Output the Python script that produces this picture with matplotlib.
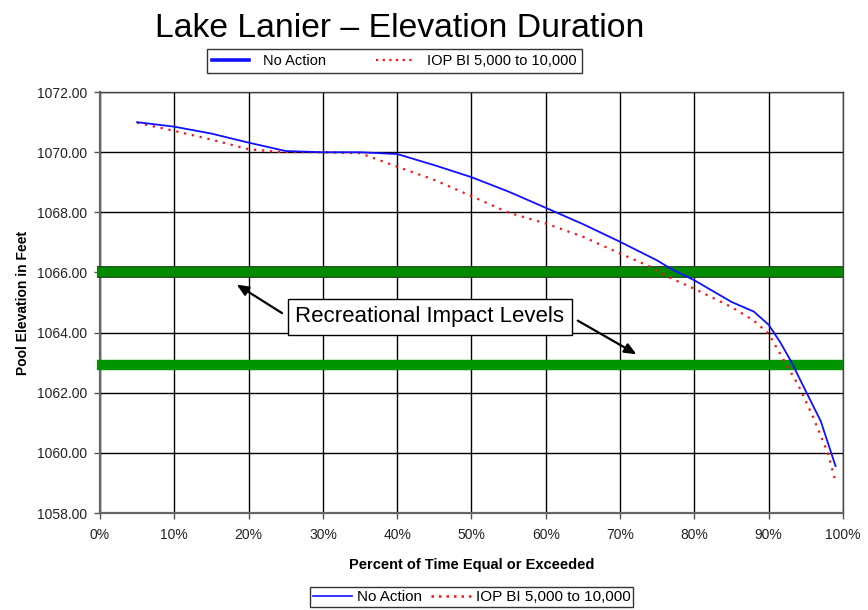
import matplotlib
matplotlib.use("Agg")
import matplotlib.pyplot as plt
import matplotlib.patheffects as pe
from matplotlib.lines import Line2D
from matplotlib.ticker import FuncFormatter, MultipleLocator

plt.rcParams['font.family'] = ['Liberation Sans', 'DejaVu Sans']

# Elevation duration curves (percent of time equal or exceeded vs pool elevation, ft)
pct_no_action = [5, 10, 15, 20, 25, 30, 35, 40, 45, 50, 55, 60, 65, 70, 75, 77,
                 80, 85, 88, 90, 91.5, 93, 95, 97, 99]
elev_no_action = [1071.0, 1070.85, 1070.62, 1070.32, 1070.04, 1070.0, 1070.0,
                  1069.94, 1069.57, 1069.17, 1068.69, 1068.15, 1067.61, 1067.02,
                  1066.4, 1066.1, 1065.74, 1065.02, 1064.7, 1064.26, 1063.7,
                  1063.05, 1062.05, 1061.06, 1059.56]

pct_iop = [5, 10, 15, 20, 24, 30, 35, 40, 45, 50, 55, 60, 65, 70, 74, 77,
           80, 85, 88, 90, 92, 94, 96, 98, 99]
elev_iop = [1070.98, 1070.71, 1070.42, 1070.1, 1070.01, 1070.0, 1069.97,
            1069.52, 1069.08, 1068.54, 1067.99, 1067.63, 1067.19, 1066.63,
            1066.2, 1065.79, 1065.46, 1064.85, 1064.4, 1063.96, 1063.1,
            1062.25, 1061.18, 1059.97, 1059.04]

impact_levels = [1066.0, 1062.93]
series_names = ["No Action", "IOP BI 5,000 to 10,000"]

fig = plt.figure(figsize=(8.68, 6.10), dpi=100)
ax = fig.add_axes([0.1152, 0.159, 0.856, 0.690])

ax.set_xlim(0, 100)
ax.set_ylim(1058, 1072)
ax.xaxis.set_major_locator(MultipleLocator(10))
ax.yaxis.set_major_locator(MultipleLocator(2))
ax.xaxis.set_major_formatter(FuncFormatter(lambda v, p: f"{v:.0f}%"))
ax.yaxis.set_major_formatter(FuncFormatter(lambda v, p: f"{v:.2f}"))
ax.grid(True, color='black', linewidth=1.0)
ax.set_axisbelow(True)
ax.tick_params(axis='both', direction='out', length=4, width=1, color='#555555',
               labelsize=10, labelcolor='#222222', pad=5)
ax.tick_params(axis='x', pad=7)

for side in ['left', 'bottom']:
    ax.spines[side].set_color('#666666')
    ax.spines[side].set_linewidth(1.6)
for side in ['top', 'right']:
    ax.spines[side].set_color('#444444')
    ax.spines[side].set_linewidth(1.0)

# Recreational impact levels
ax.plot([-0.4, 100], [impact_levels[0]] * 2, color='#008a00', linewidth=7,
        solid_capstyle='butt', clip_on=False, zorder=3,
        path_effects=[pe.Stroke(linewidth=8.5, foreground='#1a3a1a'), pe.Normal()])
ax.plot([-0.4, 100], [impact_levels[1]] * 2, color='#009400', linewidth=7.5,
        solid_capstyle='butt', clip_on=False, zorder=3)

ax.plot(pct_no_action, elev_no_action, color='#1010ff', linewidth=1.3, zorder=5)
ax.plot(pct_iop, elev_iop, color='#ff1010', linewidth=1.6,
        linestyle=(0, (1, 2.6)), zorder=4)

ax.set_xlabel("Percent of Time Equal or Exceeded", fontsize=10.5,
              fontweight='bold', labelpad=11)
ax.set_ylabel("Pool Elevation in Feet", fontsize=10, fontweight='bold', labelpad=5)

# Callout box with arrows
ax.text(44.4, 1064.52, "Recreational Impact Levels", fontsize=16, ha='center',
        va='center', zorder=7,
        bbox=dict(boxstyle='square,pad=0.35', facecolor='white',
                  edgecolor='black', linewidth=1.0))
arrow_kw = dict(arrowstyle='-|>,head_length=0.7,head_width=0.3', color='black',
                linewidth=1.6, shrinkA=0, shrinkB=0)
ax.annotate("", xy=(18.4, 1065.6), xytext=(24.5, 1064.65),
            arrowprops=arrow_kw, zorder=6)
ax.annotate("", xy=(72.2, 1063.28), xytext=(64.3, 1064.4),
            arrowprops=arrow_kw, zorder=6)

fig.text(0.46, 1 - 37 / 610, "Lake Lanier \u2013 Elevation Duration", fontsize=24.3,
         ha='center', va='baseline')

# Legend below the title
top_handles = [Line2D([], [], color='#1010ff', linewidth=2.6),
               Line2D([], [], color='#ff1010', linewidth=1.6, linestyle=(0, (1, 2)))]
leg1 = fig.legend(top_handles, series_names, loc='center',
                  bbox_to_anchor=(394.5 / 868, 1 - 61 / 610), ncol=2,
                  fontsize=10.5, frameon=True, fancybox=False, handlelength=2.5,
                  handletextpad=1.0, columnspacing=3.4, borderpad=0.35,
                  borderaxespad=0)
leg1.get_frame().set_edgecolor('black')
leg1.get_frame().set_linewidth(1.0)

# Legend at the bottom
bot_handles = [Line2D([], [], color='#1010ff', linewidth=1.2),
               Line2D([], [], color='#ff1010', linewidth=1.8, linestyle=(0, (1, 2)))]
leg2 = fig.legend(bot_handles, series_names, loc='center',
                  bbox_to_anchor=(471.5 / 868, 1 - 597 / 610), ncol=2,
                  fontsize=11, frameon=True, fancybox=False, handlelength=2.6,
                  handletextpad=0.3, columnspacing=0.6, borderpad=0.2,
                  borderaxespad=0)
leg2.get_frame().set_edgecolor('black')
leg2.get_frame().set_linewidth(1.0)

fig.savefig("out.png", dpi=100)
